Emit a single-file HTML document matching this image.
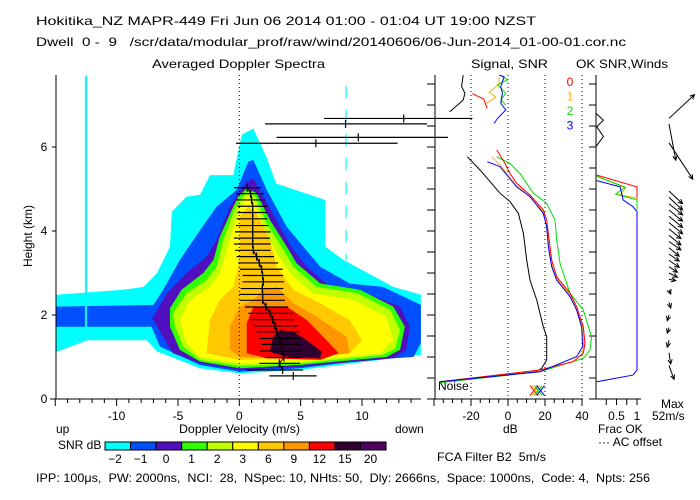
<!DOCTYPE html>
<html><head><meta charset="utf-8"><style>
html,body{margin:0;padding:0;background:#fff;width:700px;height:500px;overflow:hidden}
svg{display:block}
text{font-family:"Liberation Sans",sans-serif;font-size:12px;fill:#000}
</style></head><body>
<svg id="chart" width="700" height="500" viewBox="0 0 700 500" xmlns="http://www.w3.org/2000/svg">
<defs><clipPath id="cm"><rect x="56" y="75" width="365" height="324"/></clipPath>
<clipPath id="ce"><rect x="56" y="75" width="427" height="324"/></clipPath></defs>
<text x="36" y="25" textLength="500" lengthAdjust="spacingAndGlyphs">Hokitika_NZ  MAPR-449  Fri Jun 06 2014 01:00 - 01:04 UT 19:00 NZST</text>
<text x="36" y="46" textLength="590" lengthAdjust="spacingAndGlyphs" xml:space="preserve">Dwell  0 -  9   /scr/data/modular_prof/raw/wind/20140606/06-Jun-2014_01-00-01.cor.nc</text>
<text x="152" y="68" textLength="173" lengthAdjust="spacingAndGlyphs">Averaged Doppler Spectra</text>
<text x="471" y="68" textLength="77" lengthAdjust="spacingAndGlyphs">Signal, SNR</text>
<text x="576" y="68" textLength="92" lengthAdjust="spacingAndGlyphs">OK SNR,Winds</text>
<text transform="translate(32,236) rotate(-90)" text-anchor="middle" font-size="11">Height (km)</text>
<text x="179" y="433" textLength="121" lengthAdjust="spacingAndGlyphs">Doppler Velocity (m/s)</text>
<text x="56" y="433">up</text>
<text x="395" y="433">down</text>
<text x="503" y="433">dB</text>
<text x="598" y="433">Frac OK</text>
<text x="598" y="446" textLength="64" lengthAdjust="spacingAndGlyphs">··· AC offset</text>
<text x="661" y="408">Max</text>
<text x="652" y="420">52m/s</text>
<text x="58" y="449">SNR dB</text>
<text x="437" y="461" textLength="109" lengthAdjust="spacingAndGlyphs" xml:space="preserve">FCA Filter B2  5m/s</text>
<text x="438" y="390" font-size="11">Noise</text>
<text x="36" y="482" textLength="614" lengthAdjust="spacingAndGlyphs" xml:space="preserve">IPP: 100μs,  PW: 2000ns,  NCI:  28,  NSpec: 10, NHts: 50,  Dly: 2666ns,  Space: 1000ns,  Code: 4,  Npts: 256</text>
<g id="g"></g>
</svg>
<script>
// ---- data ----
var levelLabels = ['-2','-1','0','1','2','3','6','9','12','15','20'];
var levelColors = ['#00ffff','#0050ff','#5010c0','#30ff00','#c0ff00','#ffff00','#ffc800','#ff9600','#ff0000','#300030','#500060'];
// contour polygons per SNR level: [velocity m/s, height km]
var contourM2 = [[-14.9,2.48],[-9.5,2.6],[-7.8,2.67],[-6.7,3.0],[-5.65,3.63],[-5.5,4.46],[-4.3,4.82],[-3.2,4.86],[-2.4,5.33],[-0.5,5.33],[0.2,6.29],[1.14,6.44],[2.2,5.77],[3.0,5.13],[4.95,4.94],[7.0,4.74],[7.0,3.63],[8.5,3.31],[12.55,2.67],[14.8,2.48],[14.8,1.05],[10.4,0.89],[4.95,0.69],[0.05,0.61],[-3.2,0.73],[-6.7,1.13],[-7.55,1.4],[-12.4,1.4],[-14.8,1.13],[-14.9,1.13]];
var contourM1 = [[-14.9,2.2],[-7.0,2.24],[-6.2,2.6],[-4.84,3.31],[-3.2,4.02],[-1.85,4.58],[-0.2,4.98],[0.73,5.65],[1.14,5.69],[2.23,4.98],[3.86,4.1],[5.2,3.63],[6.6,3.15],[9.0,2.75],[11.7,2.67],[14.8,2.24],[14.8,1.33],[14.2,1.0],[10.4,0.93],[4.95,0.73],[0.05,0.65],[-3.2,0.81],[-6.47,1.25],[-7.15,1.72],[-14.9,1.72]];
var contour0 = [[-7.0,1.96],[-5.9,2.52],[-4.3,3.0],[-2.66,3.39],[-1.85,3.79],[-0.76,4.58],[-0.08,4.9],[0.6,5.17],[1.14,5.25],[1.96,4.82],[3.3,4.1],[4.4,3.55],[5.5,3.15],[7.4,2.67],[10.4,2.52],[13.1,2.2],[13.9,1.72],[13.6,1.17],[12.55,0.97],[4.95,0.77],[0.05,0.69],[-3.2,0.85],[-5.4,1.09],[-6.06,1.4],[-7.15,1.96]];
var contour1 = [[-5.65,2.16],[-4.7,2.6],[-2.93,3.0],[-2.1,3.31],[-1.58,3.87],[-0.49,4.58],[-0.08,4.82],[0.6,5.02],[1.41,4.9],[2.5,4.26],[3.86,3.63],[4.67,3.23],[6.6,2.75],[9.84,2.6],[12.55,2.2],[13.5,1.72],[13.1,1.17],[12.0,1.0],[4.95,0.81],[0.05,0.73],[-3.2,0.89],[-4.84,1.17],[-5.65,1.72]];
var contour2 = [[-5.4,2.04],[-4.3,2.52],[-2.66,2.83],[-1.85,3.15],[-1.3,3.79],[-0.35,4.54],[0.05,4.74],[0.73,4.94],[1.27,4.82],[2.23,4.18],[3.6,3.55],[4.4,3.15],[6.3,2.67],[9.6,2.52],[12.3,2.12],[13.1,1.64],[12.7,1.2],[11.7,1.05],[4.95,0.85],[0.05,0.79],[-3.2,0.93],[-4.57,1.25],[-5.24,1.72]];
var contour3 = [[-4.84,1.88],[-4.0,2.36],[-2.4,2.67],[-1.58,3.0],[-0.76,3.79],[-0.08,4.5],[0.6,4.82],[1.14,4.74],[1.96,4.1],[3.04,3.47],[4.13,3.0],[6.0,2.52],[9.3,2.36],[12.0,1.96],[12.55,1.4],[11.5,1.09],[4.95,0.89],[0.05,0.85],[-3.2,1.0],[-4.3,1.33]];
var contour6 = [[-2.66,1.09],[-2.4,1.88],[-1.58,2.36],[-0.49,2.67],[0.05,3.31],[0.05,4.34],[0.73,4.58],[1.41,4.42],[2.5,3.79],[3.04,3.15],[4.4,2.6],[6.6,2.28],[9.0,1.88],[10.0,1.4],[9.0,1.09],[4.95,0.97],[0.05,0.93]];
var contour9 = [[-0.76,1.17],[-0.76,1.72],[0.05,2.2],[1.14,2.36],[1.96,2.6],[3.04,2.67],[4.4,2.28],[6.3,1.96],[8.75,1.48],[9.0,1.09],[4.95,0.97],[0.05,1.0]];
var contour12 = [[0.6,1.09],[0.6,1.8],[1.14,2.2],[3.86,2.2],[5.5,1.88],[7.1,1.4],[8.1,1.09],[6.6,0.93],[2.23,0.97]];
var contour15 = [[2.5,1.17],[2.77,1.48],[3.3,1.64],[4.4,1.6],[5.5,1.4],[6.7,1.13],[6.6,0.97],[4.13,1.0],[2.77,1.09]];
// error bars
var barHeights = [0.55,0.69,0.85,0.99,1.14,1.30,1.44,1.60,1.74,1.89,2.04,2.19,2.35,2.49,2.63,2.79,2.94,3.09,3.24,3.39,3.54,3.69,3.83,3.98,4.13,4.29,4.44,4.59,4.74,4.89,5.03,6.09,6.23,6.55,6.68];
var barCenter = [4.4,3.53,3.26,3.64,3.45,3.45,3.26,3.04,2.91,2.72,2.5,2.18,1.9,1.9,1.87,1.96,1.9,1.82,1.63,1.41,1.14,1.09,1.09,1.09,1.09,1.09,1.09,1.09,1.0,0.92,0.65,6.24,9.7,8.66,13.4];
var barLow = [2.45,0.6,1.63,2.09,1.68,1.82,1.63,1.41,1.14,0.92,0.73,0.46,0.05,0,0.11,0.27,0.27,0.05,-0.08,-0.22,-0.35,-0.43,-0.43,-0.35,-0.27,-0.22,-0.16,-0.16,-0.22,-0.27,-0.43,-0.27,3.04,2.1,6.9];
var barHigh = [6.3,5.2,4.95,5.2,5.08,5.08,4.89,4.95,4.76,4.46,4.4,3.99,3.72,3.64,3.58,3.64,3.58,3.53,3.18,2.83,2.56,2.56,2.5,2.56,2.37,2.28,2.28,2.28,2.09,2.0,1.74,12.9,17,15.3,19];
// signal / SNR profiles [dB, km]
var noiseProfile = [[-22,5.77],[-15.1,5.45],[-4.3,4.9],[1.1,4.7],[5.6,4.42],[8.3,3.94],[10.1,3.31],[11.9,2.83],[15.5,2.36],[19.1,1.72],[20.9,1.48],[20.9,0.93],[18.2,0.73],[15.5,0.65],[-36.8,0.41]];
var noiseTop = [[-24.2,7.71],[-25.1,7.44],[-23.3,7.28],[-24.2,7.12],[-31.4,6.84]];
var snr0 = [[-6.1,5.93],[-1.6,5.61],[1.1,5.37],[4.7,5.13],[11.9,4.86],[19.1,4.5],[20.9,4.26],[22.7,3.63],[23.6,3.31],[26.3,2.91],[33.5,2.52],[37.1,2.2],[40.7,1.72],[41.6,1.32],[40.7,1.09],[35.3,0.89],[17.3,0.69],[-36.8,0.41]];
var snr1 = [[-8.8,5.77],[-3.4,5.53],[0.5,5.3],[4.0,5.1],[11.2,4.84],[18.6,4.48],[20.4,4.22],[22.2,3.6],[23.1,3.28],[25.8,2.9],[33.0,2.5],[36.6,2.18],[40.2,1.72],[41.0,1.3],[40.0,1.07],[34.8,0.88],[17.0,0.68],[-36.8,0.41]];
var snr2 = [[-6.1,5.77],[1.1,5.61],[6.5,5.37],[13.7,4.9],[20.9,4.66],[25.4,4.26],[26.3,3.79],[28.1,3.23],[33.5,2.52],[40.7,2.12],[45.2,1.48],[44.3,1.17],[40.7,0.97],[17.3,0.65],[-36.8,0.39]];
var snr3 = [[-11.2,5.65],[-4.3,5.53],[0.2,5.29],[4.7,5.05],[11.9,4.82],[19.1,4.42],[20.9,4.1],[21.8,3.63],[23.6,3.15],[26.3,2.83],[33.5,2.44],[37.1,2.12],[39.8,1.72],[40.4,1.25],[37.1,1.01],[17.3,0.65],[-36.8,0.41]];
var snr0Top = [[-19.3,7.27],[-13.1,7.14],[-11.3,6.92]];
var snr1Top = [[-4.8,7.66],[-4.8,7.5],[-10.2,7.3],[-6.6,7.19],[-12.0,7.03]];
var snr2Top = [[-3.8,7.71],[-0.3,7.6],[-5.7,7.48],[-1.2,7.28],[-3.9,7.12],[-1.2,7.0]];
var snr3Top = [[-4.8,7.71],[-2.1,7.67],[-3.9,7.44],[-3.0,7.28],[-3.9,7.04],[-1.2,6.88],[-5.7,6.68],[-7.5,6.56]];
// fraction OK profiles [frac, km]
var frac0 = [[0.02,5.33],[1.0,5.05],[1.0,4.78]];
var frac1 = [[0.05,5.3],[0.72,5.02],[0.59,4.86],[1.0,4.78],[1.0,4.6]];
var frac2 = [[0.02,5.3],[0.72,5.04],[0.48,4.88],[1.0,4.74],[1.0,4.5]];
var frac3 = [[0.02,5.2],[0.59,5.05],[0.66,4.74],[0.9,4.58],[1.0,4.46],[1.0,0.69],[0.9,0.57],[0.02,0.41]];
var fracNoise = [[0.0,6.8],[0.18,6.64],[0.02,6.48],[0.18,6.25],[0.0,6.01]];
// winds: height km, east & vertical-plot components (m/s)
var windH = [6.68,6.55,6.1,4.95,4.8,4.65,4.5,4.35,4.2,4.05,3.9,3.75,3.6,3.45,3.3,3.15,3.0,2.85,2.6,2.3,2.0,1.7,1.4,1.1,0.8];
var windU = [15,4,14,8,8,8,8,8,8,7,7,7,6,6,6,5,5,4,1,1,-1,-1,-1,1,3];
var windV = [17,-26,-26,-9,-9,-8,-8,-8,-8,-7,-7,-6,-6,-5,-5,-4,-3,-1,-3,-4,-4,-4,-5,-8,-10];
var vTicks = [-10,-5,0,5,10];
var hTicks = [0,2,4,6];
var dbTicks = [-20,0,20,40];
var fracTicks = ['0.5','1'];

// ---- scales ----
function X(v){return 239.3+v*12.27;}
function Y(h){return 399-h*42;}
function D(d){return 508+d*1.85;}
function F(f){return 596+f*41;}
var NS='http://www.w3.org/2000/svg', G=document.getElementById('g');
function mk(tag,at,parent){var e=document.createElementNS(NS,tag);for(var k in at)e.setAttribute(k,at[k]);(parent||G).appendChild(e);return e;}
function pts(arr,fx){return arr.map(function(p){return fx(p[0]).toFixed(1)+','+Y(p[1]).toFixed(1);}).join(' ');}

// spectra contours
var cg=mk('g',{'clip-path':'url(#cm)'});


var contours=[contourM2,contourM1,contour0,contour1,contour2,contour3,contour6,contour9,contour12,contour15];
for(var i=0;i<contours.length;i++){
  var p=mk('polygon',{points:pts(contours[i],X),fill:levelColors[i]},cg);
  
  
}
var cl=mk('line',{x1:X(-12.5),x2:X(-12.5),y1:Y(7.7),y2:Y(1.4),stroke:'#00ffff','stroke-width':2},cg);


var cr=mk('line',{x1:X(8.7),x2:X(8.7),y1:Y(7.45),y2:Y(3.3),stroke:'#00ffff','stroke-width':1.2,'stroke-dasharray':'12,12'},cg);



// zero line
var zl=mk('line',{x1:X(0),x2:X(0),y1:75,y2:399,stroke:'#000','stroke-dasharray':'1,3'});



// error bars
var eg=mk('g',{'clip-path':'url(#ce)',stroke:'#000','stroke-width':1.2});


for(var i=0;i<barHeights.length;i++){
  var y=Y(barHeights[i]);
  var l=mk('line',{x1:X(barLow[i]),x2:X(barHigh[i]),y1:y,y2:y},eg);
  
  
  var t=mk('line',{x1:X(barCenter[i]),x2:X(barCenter[i]),y1:y-4,y2:y+4},eg);
  
  
}
var mv=[];for(var i=1;i<31;i++)mv.push([barCenter[i],barHeights[i]]);
var ml=mk('polyline',{points:pts(mv,X),fill:'none',stroke:'#000','stroke-width':1});



// axes main
function line(x1,y1,x2,y2,name,extra){var e=mk('line',Object.assign({x1:x1,y1:y1,x2:x2,y2:y2,stroke:'#000','stroke-width':1},extra||{}));return e;}
line(56,75,56,399,'spectra-y-axis');
line(50,399,421,399,'spectra-x-axis');
line(435,75,435,399,'signal-left-axis');
for(var v=-15;v<=14;v++){var len=(v%5===0)?7:4;line(X(v),399,X(v),399+len,'x-tick');}
for(var i=0;i<vTicks.length;i++){var t=mk('text',{x:X(vTicks[i]),y:420,'text-anchor':'middle'});t.textContent=vTicks[i];

}
for(var i=0;i<hTicks.length;i++){line(52,Y(hTicks[i]),56,Y(hTicks[i]),'y-tick');var t=mk('text',{x:44,y:Y(hTicks[i])+4,'text-anchor':'middle'});t.textContent=hTicks[i];

}
for(var h=0;h<=7.5;h+=0.5){line(427,Y(h),435,Y(h),'signal-y-tick');line(589,Y(h),596,Y(h),'winds-y-tick');}

// signal panel
line(429,399,583,399,'signal-x-axis');
for(var d=-40;d<=40;d+=5){line(D(d),399,D(d),399+((d%20===0)?7:4),'db-tick');}
for(var i=0;i<dbTicks.length;i++){
  line(D(dbTicks[i]),75,D(dbTicks[i]),399,'db-gridline',{'stroke-dasharray':'1,3'});
  var t=mk('text',{x:D(dbTicks[i]),y:420,'text-anchor':'middle'});t.textContent=dbTicks[i];
  
  
}
function curve(arr,fx,col,name){var e=mk('polyline',{points:pts(arr,fx),fill:'none',stroke:col,'stroke-width':1});}
curve(noiseProfile,D,'#000','noise-profile');
curve(noiseTop,D,'#000','noise-profile-top');
curve(snr2,D,'#00e000','snr-beam-2');
curve(snr1,D,'#ffb000','snr-beam-1');
curve(snr0,D,'#ff0000','snr-beam-0');
curve(snr3,D,'#0000ff','snr-beam-3');
curve(snr0Top,D,'#ff0000','snr-beam-0-top');
curve(snr1Top,D,'#ffb000','snr-beam-1-top');
curve(snr2Top,D,'#00e000','snr-beam-2-top');
curve(snr3Top,D,'#0000ff','snr-beam-3-top');
var xcols=['#ff0000','#ffb000','#00e000','#0000ff'];
for(var i=0;i<4;i++){var cx=D(14+i*1.2),cy=Y(0.2);
 var m=mk('path',{d:'M'+(cx-4)+','+(cy-5)+'L'+(cx+4)+','+(cy+5)+'M'+(cx+4)+','+(cy-5)+'L'+(cx-4)+','+(cy+5),stroke:xcols[i],fill:'none'});
 
 }
var beamLabels=['0','1','2','3'];
for(var i=0;i<4;i++){var t=mk('text',{x:570,y:86+i*14.5,'text-anchor':'middle',style:'fill:'+xcols[i]});t.textContent=beamLabels[i];

}

// winds / frac panel
line(596,75,596,399,'frac-y-axis');
line(592,399,641,399,'frac-x-axis');
for(var f=0.25;f<=1.001;f+=0.25){line(F(f),399,F(f),405,'frac-tick');}
var fl=[0.5,1];
for(var i=0;i<fracTicks.length;i++){var t=mk('text',{x:F(fl[i]),y:420,'text-anchor':'middle'});t.textContent=fracTicks[i];

}
curve(frac0,F,'#ff0000','frac-ok-beam-0');
curve(frac1,F,'#ffb000','frac-ok-beam-1');
curve(frac2,F,'#00e000','frac-ok-beam-2');
curve(frac3,F,'#0000ff','frac-ok-beam-3');
curve(fracNoise,F,'#000','frac-ok-noise');
var wg=mk('g',{stroke:'#000','stroke-width':1,fill:'none'});


for(var i=0;i<windH.length;i++){
  var x0=669,y0=Y(windH[i]),x1=x0+windU[i]*1.7,y1=y0-windV[i]*1.4;
  var a=Math.atan2(y1-y0,x1-x0),s=5;
  var w=mk('path',{d:'M'+x0+','+y0+'L'+x1+','+y1+'M'+(x1-s*Math.cos(a-0.45))+','+(y1-s*Math.sin(a-0.45))+'L'+x1+','+y1+'L'+(x1-s*Math.cos(a+0.45))+','+(y1-s*Math.sin(a+0.45))},wg);
  
  
}

// colorbar
for(var i=0;i<levelColors.length;i++){
  var r=mk('rect',{x:105+i*25.55,y:442,width:25.55,height:8,fill:levelColors[i],stroke:'#000','stroke-width':1});
  
  
  var t=mk('text',{x:105+i*25.55+10,y:463,'text-anchor':'middle'});t.textContent=levelLabels[i].replace('-','−');
  
  
}
</script>
</body></html>
